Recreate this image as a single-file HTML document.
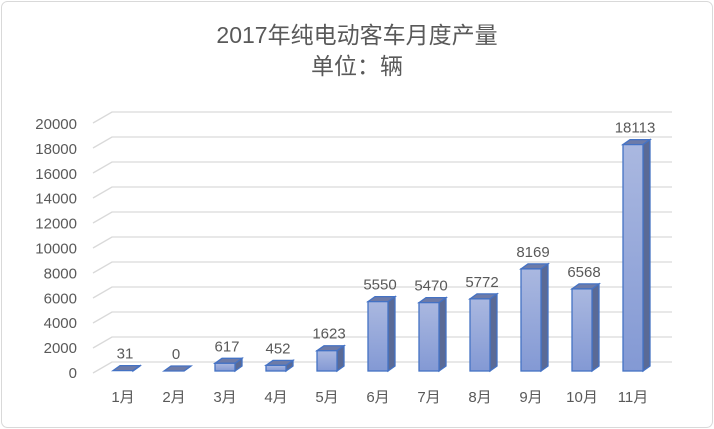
<!DOCTYPE html><html><head><meta charset="utf-8"><style>body{margin:0;background:#fff}svg{display:block}text{font-family:"Liberation Sans","Noto Sans CJK SC",sans-serif;fill:#595959}</style></head><body>
<svg width="714" height="429" viewBox="0 0 714 429">
<defs><linearGradient id="g" x1="0" y1="0" x2="0" y2="1"><stop offset="0" stop-color="#aab8e0"/><stop offset="1" stop-color="#8399d4"/></linearGradient></defs>
<rect x="1.5" y="1.5" width="711" height="426" rx="6" fill="#fff" stroke="#d9d9d9"/>
<text x="357" y="43" font-size="23" text-anchor="middle">2017年纯电动客车月度产量</text>
<text x="357" y="74" font-size="23" text-anchor="middle">单位：辆</text>
<g stroke="#d9d9d9" stroke-width="1.3" fill="none" id="grid"></g>
<g font-size="15" text-anchor="end" id="yl"></g>
<g id="bars"></g>
<g font-size="15" text-anchor="middle" id="xl"></g>
</svg>
<script>
var ns="http://www.w3.org/2000/svg";function el(p,t,a,tx){var e=document.createElementNS(ns,t);for(var k in a)e.setAttribute(k,a[k]);if(tx!=null)e.textContent=tx;document.getElementById(p).appendChild(e);}
for(var i=0;i<=10;i++){var yb=362-25*i,yf=yb+11;el("grid","polyline",{points:"93,"+yf+" 112,"+yb+" 672,"+yb});el("yl","text",{x:77,y:378-24.9*i},String(i*2000));}
var v=[31,0,617,452,1623,5550,5470,5772,8169,6568,18113];
for(var i=0;i<11;i++){var c=123+51*i,x=c-10,w=20,b=371,h=v[i]*0.0125,t=b-h,d=7,u=5;
el("bars","polygon",{points:(x+w)+","+t+" "+(x+w+d)+","+(t-u)+" "+(x+w+d)+","+(b-u)+" "+(x+w)+","+b,fill:"#5a6a96",stroke:"#4472c4","stroke-width":1.3});
el("bars","polygon",{points:x+","+t+" "+(x+d)+","+(t-u)+" "+(x+w+d)+","+(t-u)+" "+(x+w)+","+t,fill:"#6d7ba8",stroke:"#4472c4","stroke-width":1.3});
if(h>0.5)el("bars","rect",{x:x,y:t,width:w,height:h,fill:"url(#g)",stroke:"#4472c4","stroke-width":1.3});
el("bars","text",{x:c+2,y:t-12,"font-size":15,"text-anchor":"middle"},String(v[i]));
el("xl","text",{x:c,y:402},(i+1)+"月");}
</script></body></html>
